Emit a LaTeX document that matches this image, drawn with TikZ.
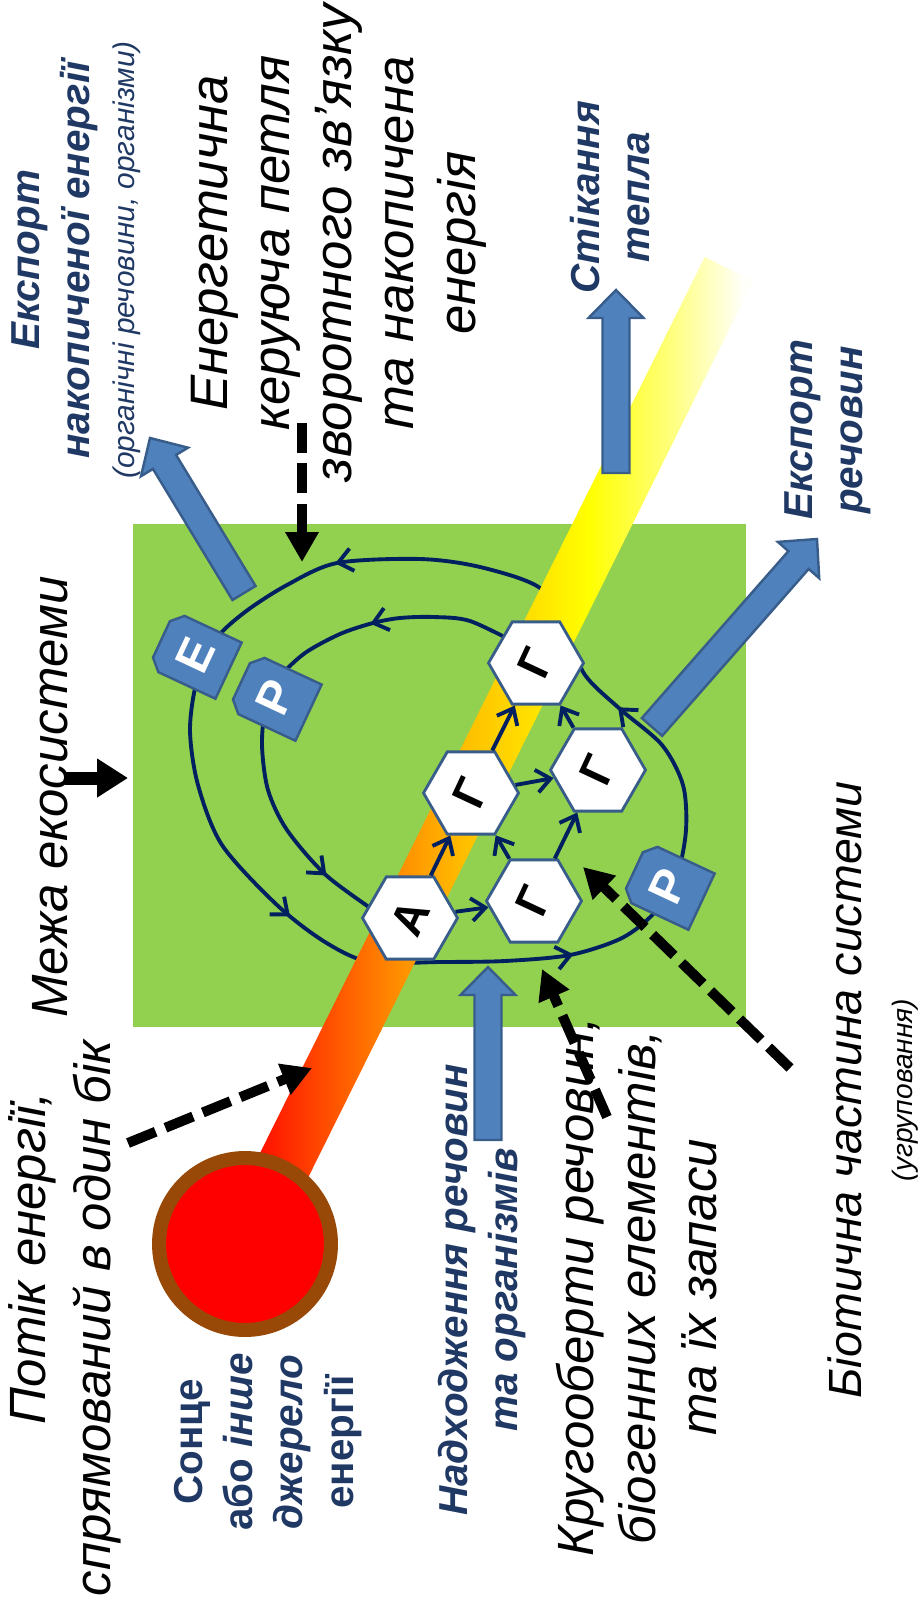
\documentclass[tikz,border=0pt]{standalone}
\usepackage{fontspec}
\setmainfont{Liberation Sans}
\usetikzlibrary{arrows.meta, shapes.geometric, calc, decorations.markings}
\definecolor{ecogreen}{RGB}{146,208,80}
\definecolor{boxblue}{RGB}{79,129,189}
\definecolor{edgeblue}{RGB}{56,93,138}
\definecolor{navyline}{RGB}{0,32,96}
\definecolor{txtblue}{RGB}{31,56,100}
\definecolor{sunbrown}{RGB}{152,72,7}
\pgfdeclarehorizontalshading{beamshade}{100bp}{rgb(0bp)=(1,0,0); rgb(27bp)=(1,0,0); rgb(34bp)=(1,0.27,0); rgb(41.5bp)=(1,0.55,0); rgb(48bp)=(1,0.75,0); rgb(55bp)=(1,0.9,0); rgb(59.5bp)=(1,1,0); rgb(67bp)=(1,1,0.47); rgb(74bp)=(1,1,0.98); rgb(100bp)=(1,1,1)}

\tikzset{
  loopbarb/.tip={Straight Barb[length=8pt, width=13pt]},
  hexbox/.style={regular polygon, regular polygon sides=6, rotate=65, shape border rotate=-65,
    minimum size=1.9cm, inner sep=0pt, fill=white, draw=edgeblue, line width=1.6pt,
    font=\fontsize{26}{26}\selectfont\bfseries},
  hexlink/.style={draw=navyline, line width=2.2pt, -loopbarb},
  loopline/.style={draw=navyline, line width=2.2pt},
  bigarrow/.style={fill=boxblue, draw=edgeblue, line width=1.4pt},
  dasharrow/.style={line width=5.7pt, dash pattern=on 17pt off 6pt, -{Triangle[length=17pt, width=18pt]}},
  bigtxt/.style={rotate=90, align=center, font=\fontsize{29}{35}\selectfont\itshape},
  bluetxt/.style={rotate=90, align=center, text=txtblue, font=\fontsize{23}{28.5}\selectfont\bfseries\itshape},
  tagbox/.pic={
    \filldraw[fill=boxblue, draw=edgeblue, line width=1.4pt]
      (-31,37) -- (31,37) -- (31,-26) -- (20,-37) -- (-20,-37) -- (-31,-26) -- cycle;
    \node[transform shape, text=white, font=\fontsize{27}{27}\selectfont\bfseries] (-t) {#1};
  }
}

% block arrow: tail, tip
\newcommand{\fatarrow}[2]{%
  \coordinate (fa-base) at ($(#2)!0.56cm!(#1)$);
  \filldraw[bigarrow] ($(#1)!0.27cm!90:(#2)$) -- ($(fa-base)!0.27cm!90:(#2)$)
    -- ($(fa-base)!0.55cm!90:(#2)$) -- (#2) -- ($(fa-base)!0.55cm!-90:(#2)$)
    -- ($(fa-base)!0.27cm!-90:(#2)$) -- ($(#1)!0.27cm!-90:(#2)$) -- cycle;
}

\begin{document}
\begin{tikzpicture}[x=0.02cm, y=-0.02cm]
\useasboundingbox (0,0) rectangle (917,1611);

% ecosystem boundary
\fill[ecogreen] (133,524) rectangle (746,1027);

% matter cycles
\draw[loopline, decoration={markings,
    mark=at position 0.059 with {\arrow{loopbarb}},
    mark=at position 0.377 with {\arrow{loopbarb}},
    mark=at position 0.583 with {\arrow{loopbarb}},
    mark=at position 0.813 with {\arrow{loopbarb}}}, postaction={decorate}]
  plot[smooth cycle] coordinates {(480,567) (420,559) (337,563) (287,585) (245,612) (215,640)
    (197,680) (190,730) (198,785) (222,845) (277,905) (325,942) (370,962) (440,962) (505,961)
    (570,955) (622,938) (655,912) (677,875) (686,830) (683,785) (662,745) (620,709) (585,675)
    (565,630) (540,588)};
\draw[loopline, decoration={markings,
    mark=at position 0.28 with {\arrow{loopbarb}},
    mark=at position 0.87 with {\arrow{loopbarb}}}, postaction={decorate}]
  plot[smooth] coordinates {(520,645) (470,621) (433,617) (400,618) (373,623) (340,634)
    (305,653) (280,677) (266,705) (262,745) (268,790) (287,830) (327,876) (385,918)};

% energy beam and source
\coordinate (sunC) at (245,1244);
\coordinate (beamEnd) at (729,269);
\shade[shading=beamshade] ($(sunC)!0.54cm!90:(beamEnd)$) -- ($(beamEnd)!0.54cm!-90:(sunC)$)
  -- ($(beamEnd)!0.54cm!90:(sunC)$) -- ($(sunC)!0.54cm!-90:(beamEnd)$) -- cycle;
\node[circle, draw=sunbrown, fill=red, line width=0.28cm, minimum size=3.44cm, inner sep=0pt] (sun) at (sunC) {};

% autotrophs and heterotrophs
\node[hexbox] (hA) at (410,918) {А};
\node[hexbox] (hG1) at (534,901) {Г};
\node[hexbox] (hG2) at (471,793) {Г};
\node[hexbox] (hG3) at (598,770) {Г};
\node[hexbox] (hG4) at (536,663) {Г};
\draw[hexlink] (hA) -- (hG2);
\draw[hexlink] (hA) -- (hG1);
\draw[hexlink] (hG1) -- (hG2);
\draw[hexlink] (hG1) -- (hG3);
\draw[hexlink] (hG2) -- (hG3);
\draw[hexlink] (hG2) -- (hG4);
\draw[hexlink] (hG3) -- (hG4);

% tags on the loops
\pic[rotate=65] (tagE) at (195,655) {tagbox=Е};
\pic[rotate=65] (tagP) at (275,697) {tagbox=Р};
\pic[rotate=65] (tagQ) at (668,886) {tagbox=Р};

% export / import arrows
\coordinate (eTail) at (244,593); \coordinate (eTip) at (150,438);
\coordinate (sTail) at (652,727); \coordinate (sTip) at (817,539);
\coordinate (hTail) at (616,473); \coordinate (hTip) at (616,290);
\coordinate (iTail) at (488,1140); \coordinate (iTip) at (488,967);
\fatarrow{eTail}{eTip}
\fatarrow{sTail}{sTip}
\fatarrow{hTail}{hTip}
\fatarrow{iTail}{iTip}

% pointers
\coordinate (enStart) at (302,423); \coordinate (enEnd) at (302,562);
\coordinate (flStart) at (128,1143); \coordinate (flEnd) at (312,1068);
\coordinate (cyStart) at (607,1117); \coordinate (cyEnd) at (542,969);
\coordinate (biStart) at (790,1068); \coordinate (biEnd) at (583,867);
\coordinate (mzStart) at (65,778); \coordinate (mzEnd) at (128,778);
\draw[dasharrow] (enStart) -- (enEnd);
\draw[dasharrow] (flStart) -- (flEnd);
\draw[dasharrow] (cyStart) -- (cyEnd);
\draw[dasharrow] (biStart) -- (biEnd);
\draw[line width=7.4pt, -{Triangle[length=0.62cm, width=0.74cm]}] (mzStart) -- (mzEnd);

% labels
\node[bigtxt] (mezha) at (50,797) {Межа екосистеми};
\node[bigtxt, font=\fontsize{30}{35.3}\selectfont\itshape] (feedback) at (339,243)
  {Енергетична\\керуюча петля\\зворотного зв’язку\\та накопичена\\енергія};
\node[bigtxt] (flowA) at (32,1258) {Потік енергії,};
\node[bigtxt] (flowB) at (97,1318) {спрямований в один бік};
\node[bigtxt] (cycles) at (637,1287) {Кругооберти речовин,\\біогенних елементів,\\та їх запаси};
\node[bigtxt, font=\fontsize{26.5}{32}\selectfont\itshape] (biota) at (873,1090)
  {Біотична частина системи\\[-3pt]{\fontsize{16}{19}\selectfont(угруповання)}};
\node[bluetxt] (exportE) at (76,260) {Експорт\\накопиченої енергії\\[-3pt]{\fontsize{17}{20}\selectfont\mdseries(органічні речовини, організми)}};
\node[bluetxt] (heat) at (610,197) {Стікання\\тепла};
\node[bluetxt] (exportS) at (828,430) {Експорт\\речовин};
\node[bluetxt] (source) at (268,1442) {{\upshape Сонце}\\{\upshape або} інше\\джерело\\{\upshape енергії}};
\node[bluetxt] (input) at (482,1290) {Надходження речовин\\та організмів};
\end{tikzpicture}
\end{document}
